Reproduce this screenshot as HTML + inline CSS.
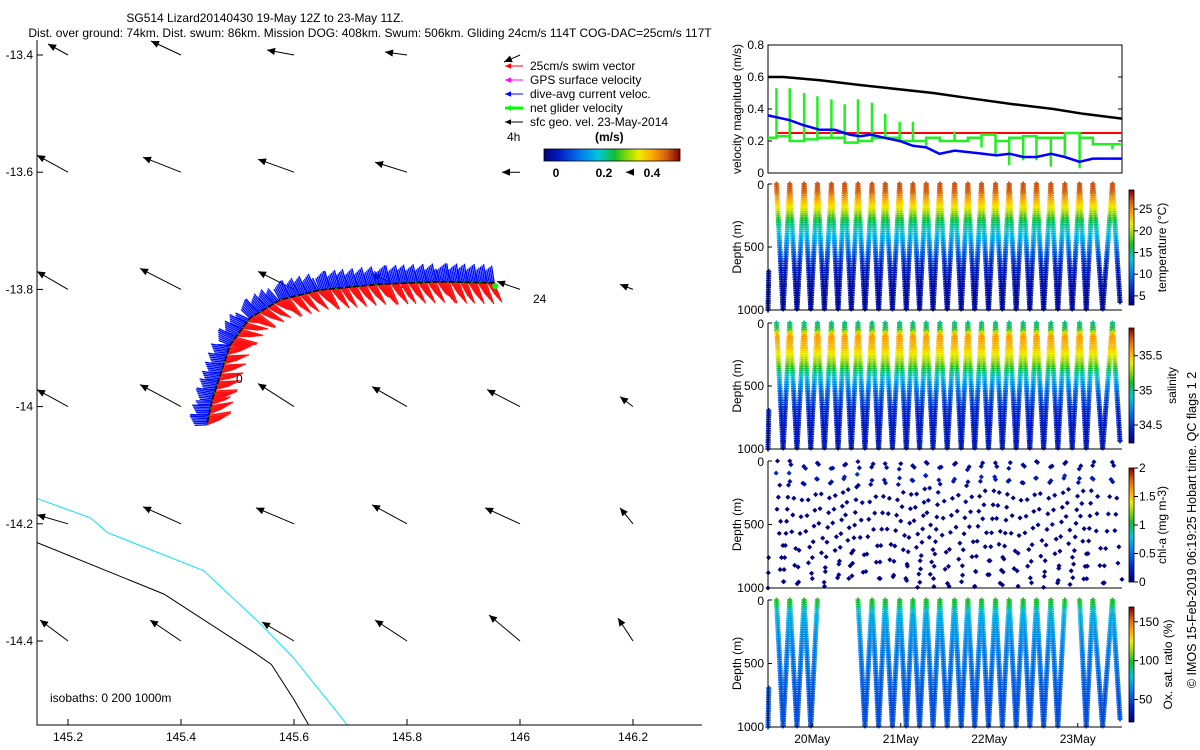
<!DOCTYPE html>
<html><head><meta charset="utf-8">
<style>
html,body{margin:0;padding:0;background:#fff;}
svg{display:block;font-family:"Liberation Sans",sans-serif;}
text{fill:#000;}
</style></head>
<body>
<svg id="chart" width="1200" height="750" viewBox="0 0 1200 750">
<defs>
<linearGradient id="jetH" x1="0" x2="1" y1="0" y2="0"></linearGradient>
<linearGradient id="jetV" x1="0" x2="0" y1="1" y2="0"></linearGradient>
<clipPath id="mapClip"><rect x="37" y="40" width="665" height="685"/></clipPath>
</defs>
<text x="265" y="22" font-size="12" text-anchor="middle">SG514 Lizard20140430 19-May 12Z to 23-May 11Z.</text>
<text x="370" y="37" font-size="12" text-anchor="middle">Dist. over ground: 74km. Dist. swum: 86km. Mission DOG: 408km. Swum: 506km. Gliding 24cm/s 114T COG-DAC=25cm/s 117T</text>
<g id="map"></g>
<g id="vel"></g>
<g id="prof"></g>
<text transform="translate(1196,530) rotate(-90)" font-size="12.5" text-anchor="middle">© IMOS 15-Feb-2019 06:19:25 Hobart time. QC flags 1  2</text>
</svg>
<script>
// ---------- data ----------
const gridLon = [145.2,145.4,145.6,145.8,146.0,146.2];
const gridLat = [-13.4,-13.6,-13.8,-14.0,-14.2,-14.4];
const geoU = [[-0.20,-0.30,-0.27,-0.22,-0.16,0],[-0.31,-0.38,-0.36,-0.32,-0.18,-0.07],[-0.31,-0.41,-0.36,-0.35,-0.23,-0.13],[-0.31,-0.41,-0.36,-0.35,-0.33,-0.13],[-0.31,-0.38,-0.38,-0.35,-0.35,-0.13],[-0.28,-0.31,-0.32,-0.32,-0.31,-0.15]];
const geoV = [[0.11,0.14,0.05,0.03,-0.07,0],[0.17,0.15,0.13,0.10,0,0],[0.18,0.21,0.18,0.15,0.08,0.05],[0.17,0.22,0.23,0.20,0.17,0.10],[0.09,0.17,0.16,0.19,0.16,0.16],[0.21,0.21,0.19,0.21,0.26,0.23]];
const trackLon = [145.446,145.455,145.487,145.522,145.575,145.646,145.752,145.858,145.956];
const trackLat = [-14.031,-13.989,-13.895,-13.849,-13.818,-13.801,-13.791,-13.787,-13.789];
const iso0Lon = [145.14,145.37,145.53,145.56,145.60,145.63];
const iso0Lat = [-14.23,-14.32,-14.42,-14.44,-14.50,-14.55];
const iso200Lon = [145.14,145.24,145.27,145.44,145.54,145.60,145.70];
const iso200Lat = [-14.155,-14.19,-14.215,-14.28,-14.37,-14.43,-14.55];
const mapLonTicks = [145.2,145.4,145.6,145.8,146.0,146.2];
const mapLatTicks = [-13.4,-13.6,-13.8,-14.0,-14.2,-14.4];

const geoHours = [0,4.2,14.1,24.9,44.8,53.9,66.5,77.4,85.5,96];
const geoSpeed = [0.60,0.60,0.58,0.55,0.50,0.47,0.43,0.40,0.37,0.34];
const dacHours = [0,5.9,9.5,14.0,18.1,22.1,24.9,28.0,31.6,35.7,39.3,42.9,46.5,50.6,54.7,58.3,61.9,65.6,69.2,72.8,76.8,80.5,84.5,88.1,96];
const dacSpeed = [0.36,0.33,0.30,0.27,0.27,0.24,0.23,0.24,0.22,0.20,0.17,0.16,0.12,0.14,0.13,0.12,0.11,0.12,0.10,0.10,0.12,0.10,0.07,0.09,0.09];
const diveHours = [2.3,5.9,9.8,13.4,17.2,20.8,24.4,28.2,31.8,35.7,39.3,42.9,46.6,50.6,54.2,57.9,61.7,65.4,69.2,72.8,76.7,80.5,84.5,88.1,93.4];
const gliderStart = 0.22;
const gliderSpeed = [0.23,0.20,0.21,0.22,0.22,0.19,0.20,0.22,0.22,0.20,0.20,0.22,0.20,0.20,0.22,0.24,0.20,0.22,0.23,0.22,0.22,0.25,0.22,0.18,0.18];
const gliderSpike = [0.53,0.53,0.50,0.48,0.46,0.43,0.46,0.44,0.37,0.32,0.32,0.17,0.22,0.26,0.20,0.16,0.11,0.05,0.08,0.08,0.04,0.11,0.03,0.18,0.15];
const swimSpeed = 0.25;
const velTicks = [0,0.2,0.4,0.6,0.8];

const profDepth = [0,50,100,200,300,400,500,600,700,800,1000];
const tempVal = [27,27,25,21,16,13,10,7,5.5,4.5,4];
const salVal = [35.0,35.1,35.6,35.5,35.3,35.0,34.7,34.55,34.45,34.42,34.4];
const oxyVal = [100,95,75,70,65,60,58,55,52,50,50];
const chlVal = [0.05,0.1,0.3,0.05,0.03,0.02,0.02,0.02,0.02,0.02,0.02];
const oxyDives = [0,1,2,6,7,8,9,10,11,12,13,14,15,16,17,18,19,20,22,23,24];
const dateTicks = ["20May","21May","22May","23May"];
const dateTickHours = [12,36,60,84];
const depthTicks = [0,500,1000];
const tempTicks = [5,10,15,20,25];
const salTicks = [34.5,35,35.5];
const chlTicks = [0,0.5,1,1.5,2];
const oxyTicks = [50,100,150];

// ---------- helpers ----------
const NS = "http://www.w3.org/2000/svg";
function mk(tag, attrs, parent){const e=document.createElementNS(NS,tag);for(const k in attrs)e.setAttribute(k,attrs[k]);parent.appendChild(e);return e;}
const cmapPos=[0,0.12,0.28,0.4,0.52,0.62,0.7,0.8,0.9,1];
const cmapRGB=[[0,0,128],[0,32,200],[0,130,240],[0,200,220],[20,190,50],[150,220,0],[240,235,0],[255,165,0],[210,95,20],[128,0,0]];
function jet(v){v=Math.max(0,Math.min(1,v));for(let i=1;i<cmapPos.length;i++){if(v<=cmapPos[i]){const t=(v-cmapPos[i-1])/(cmapPos[i]-cmapPos[i-1]);const a=cmapRGB[i-1],b=cmapRGB[i];return `rgb(${Math.round(a[0]+t*(b[0]-a[0]))},${Math.round(a[1]+t*(b[1]-a[1]))},${Math.round(a[2]+t*(b[2]-a[2]))})`;}}return 'rgb(128,0,0)';}
['jetH','jetV'].forEach(id=>{const gEl=document.getElementById(id);cmapPos.forEach((p,i)=>{mk('stop',{offset:p,'stop-color':`rgb(${cmapRGB[i].join(',')})`},gEl);});});
function interp(xs,ys,x){if(x<=xs[0])return ys[0];for(let i=1;i<xs.length;i++){if(x<=xs[i]){const t=(x-xs[i-1])/(xs[i]-xs[i-1]);return ys[i-1]+t*(ys[i]-ys[i-1]);}}return ys[ys.length-1];}

// ---------- map ----------
const map = document.getElementById('map');
const lonX = l => 68+(l-145.2)*565;
const latY = la => 55+(-13.4-la)*586;
const mg = mk('g',{'clip-path':'url(#mapClip)'},map);


function arrow(x1,y1,x2,y2,col,w,hs,parent){
  const l=mk('line',{x1,y1,x2,y2,stroke:col,'stroke-width':w},parent);
  const dx=x2-x1,dy=y2-y1,L=Math.hypot(dx,dy)||1,ux=dx/L,uy=dy/L;
  const p=mk('polygon',{points:`${x2},${y2} ${x2-ux*hs-uy*hs*0.45},${y2-uy*hs+ux*hs*0.45} ${x2-ux*hs+uy*hs*0.45},${y2-uy*hs-ux*hs*0.45}`,fill:col},parent);
  return [l,p];
}
let pts = iso200Lon.map((l,i)=>lonX(l)+','+latY(iso200Lat[i])).join(' ');
const iso200 = mk('polyline',{points:pts,fill:'none',stroke:'#00e5ff','stroke-width':1},mg);


pts = iso0Lon.map((l,i)=>lonX(l)+','+latY(iso0Lat[i])).join(' ');
const iso0 = mk('polyline',{points:pts,fill:'none',stroke:'#000','stroke-width':1},mg);


for(let r=0;r<gridLat.length;r++)for(let c=0;c<gridLon.length;c++){
  const u=geoU[r][c],v=geoV[r][c];if(Math.hypot(u,v)<0.02)continue;
  const x=lonX(gridLon[c]),y=latY(gridLat[r]);
  const g=mk('g',{},mg);
  
  
  arrow(x,y,x+u*100,y-v*100,'#000',1,8,g);
}
const tp = trackLon.map((l,i)=>[lonX(l),latY(trackLat[i])]);
const blueG = mk('g',{stroke:'#0010ff','stroke-width':1.4},mg);


const redG = mk('g',{stroke:'#ff1010','stroke-width':1.4},mg);


for(let i=1;i<tp.length;i++){
  const [x0,y0]=tp[i-1],[x1,y1]=tp[i];const L=Math.hypot(x1-x0,y1-y0);const dx=(x1-x0)/L,dy=(y1-y0)/L;
  const nx=dy,ny=-dx;
  for(let s=0;s<L;s+=1.6){
    const px=x0+dx*s,py=y0+dy*s;const k=(Math.floor(s/1.6)%6);
    mk('line',{x1:px,y1:py,x2:px+nx*(12+k*1.3)-dx*3,y2:py+ny*(12+k*1.3)-dy*3},blueG);
    mk('line',{x1:px,y1:py,x2:px-nx*(12+k*1.8)+dx*8,y2:py-ny*(12+k*1.8)+dy*8},redG);
  }
}
const trk = mk('polyline',{points:tp.map(p=>p.join(',')).join(' '),fill:'none',stroke:'#000','stroke-width':1.5},mg);


const trkG = mk('polyline',{points:tp.map(p=>p.join(',')).join(' '),fill:'none',stroke:'#00c000','stroke-width':1,'stroke-dasharray':'2 6'},mg);


const endMark = mk('circle',{cx:tp[tp.length-1][0],cy:tp[tp.length-1][1]+3,r:3,fill:'#00ff00'},mg);


let t = mk('text',{x:236,y:383,'font-size':12},mg);t.textContent='0';


t = mk('text',{x:533,y:303,'font-size':12},mg);t.textContent='24';


t = mk('text',{x:50,y:702,'font-size':12},mg);t.textContent='isobaths: 0   200  1000m';


const ax = mk('path',{d:'M37,40 V725 H702',fill:'none',stroke:'#000','stroke-width':1},map);


mapLonTicks.forEach(l=>{const x=lonX(l);
  const tk=mk('line',{x1:x,x2:x,y1:725,y2:719,stroke:'#000'},map);
  
  
  const tx=mk('text',{x:x,y:741,'font-size':12,'text-anchor':'middle'},map);tx.textContent=(Math.round(l*10)/10).toString();
  
  });
mapLatTicks.forEach(la=>{const y=latY(la);
  const tk=mk('line',{x1:37,x2:43,y1:y,y2:y,stroke:'#000'},map);
  
  
  const tx=mk('text',{x:33,y:y+4,'font-size':12,'text-anchor':'end'},map);tx.textContent=(Math.round(la*10)/10).toString();
  
  });
const legItems=[['25cm/s swim vector','#ff0000',1],['GPS surface velocity','#ff00ff',1],['dive-avg current veloc.','#0000ff',1],['net glider velocity','#00ff00',3],['sfc geo. vel. 23-May-2014','#000',1]];
legItems.forEach((it,i)=>{const y=66+i*14;const g=mk('g',{},map);
  
  
  arrow(523,y,505,y,it[1],it[2],6,g);
  const tx=mk('text',{x:530,y:y+4,'font-size':12},g);tx.textContent=it[0];});
t=mk('text',{x:507,y:141,'font-size':12},map);t.textContent='4h';


t=mk('text',{x:595,y:141,'font-size':12,'font-weight':'bold'},map);t.textContent='(m/s)';


const cb=mk('rect',{x:544,y:149,width:136,height:12,fill:'url(#jetH)',stroke:'#000','stroke-width':0.8},map);


[['0',556],['0.2',604],['0.4',652]].forEach(a=>{
  const tx=mk('text',{x:a[1],y:177,'font-size':12,'font-weight':'bold','text-anchor':'middle'},map);tx.textContent=a[0];
  
  });

// ---------- velocity panel ----------
const vel=document.getElementById('vel');
const VX0=768,VX1=1122,VY0=45,VY1=173;
const hx=h=>VX0+h/96*(VX1-VX0);
const vy=v=>VY1-v/0.8*(VY1-VY0);
const vbox=mk('rect',{x:VX0,y:VY0,width:VX1-VX0,height:VY1-VY0,fill:'none',stroke:'#000'},vel);


velTicks.forEach(v=>{const y=vy(v);
  const tk=mk('path',{d:`M${VX0},${y}h4M${VX1},${y}h-4`,stroke:'#000'},vel);
  
  
  const tx=mk('text',{x:764,y:y+4,'font-size':12,'text-anchor':'end'},vel);tx.textContent=String(v);
  
  });
t=mk('text',{transform:'translate(741,109) rotate(-90)','font-size':12,'text-anchor':'middle'},vel);t.textContent='velocity magnitude (m/s)';


const geoLine=mk('polyline',{points:geoHours.map((h,i)=>hx(h)+','+vy(geoSpeed[i])).join(' '),fill:'none',stroke:'#000','stroke-width':2.5},vel);


const swimLine=mk('line',{x1:hx(diveHours[0]),x2:VX1,y1:vy(swimSpeed),y2:vy(swimSpeed),stroke:'#ff0000','stroke-width':2},vel);


let gp=`M${hx(0)},${vy(gliderStart)}`;
diveHours.forEach((h,i)=>{const x=hx(h);gp+=`H${x}V${vy(gliderSpike[i])}V${vy(gliderSpeed[i])}`;});
gp+=`H${VX1}`;
const gl=mk('path',{d:gp,fill:'none',stroke:'#22ee22','stroke-width':2.5},vel);


const dacLine=mk('polyline',{points:dacHours.map((h,i)=>hx(h)+','+vy(dacSpeed[i])).join(' '),fill:'none',stroke:'#0000ff','stroke-width':2.5},vel);



// ---------- profile panels ----------
const prof=document.getElementById('prof');
const panels=[
 {name:'temperature',y0:184,y1:310,vals:tempVal,min:2.9,max:29.4,ticks:tempTicks,label:'temperature (°C)',lx:1166,cb0:190,cb1:305,dives:null,sparse:false},
 {name:'salinity',y0:323,y1:449,vals:salVal,min:34.24,max:35.9,ticks:salTicks,label:'salinity',lx:1176,cb0:328,cb1:443,dives:null,sparse:false},
 {name:'chl-a',y0:461,y1:588,vals:chlVal,min:0,max:2,ticks:chlTicks,label:'chl-a (mg m-3)',lx:1166,cb0:468,cb1:582,dives:null,sparse:true},
 {name:'oxygen',y0:600,y1:727,vals:oxyVal,min:21,max:169,ticks:oxyTicks,label:'Ox. sat. ratio (%)',lx:1172,cb0:607,cb1:722,dives:oxyDives,sparse:false}
];
function cross(x,y,col,parent){mk('path',{d:`M${x-2.5},${y}h5M${x},${y-2.5}v5`,stroke:col,'stroke-width':1.8},parent);}
function sq(x,y,col,parent){mk('rect',{x:x-1.8,y:y-1.8,width:3.6,height:3.6,fill:col,transform:`rotate(45 ${x} ${y})`},parent);}
panels.forEach(P=>{
  const g=mk('g',{},prof);
  
  
  const dy=d=>P.y0+d/1000*(P.y1-P.y0);
  const col=v=>jet((v-P.min)/(P.max-P.min));
  const pg=mk('g',{},g);
  
  
  const list=P.dives||diveHours.map((_,i)=>i);
  if(!P.dives||P.dives.includes(0)){
    for(let d=1000;d>=680;d-=P.sparse?120:18){const h=diveHours[0]*(1000-d)/1000*0.3;const x=hx(h);const v=interp(profDepth,P.vals,d);
      if(P.sparse)sq(x,dy(d),col(v),pg);else cross(x,dy(d),col(v),pg);}
  }
  list.forEach(i=>{
    const hs=diveHours[i];const hn=i+1<diveHours.length?diveHours[i+1]:hs+4.4;const hb=(hs+hn)/2;
    const last=i===diveHours.length-1;
    const step=P.sparse?(95+(i*37)%45):18;
    let k=0;
    for(let d=(P.sparse?(i*29)%60:0);d<=1000;d+=step){k++;
      const h=hs+(hb-hs)*d/1000;const x=hx(h);if(x>VX1)break;const v=interp(profDepth,P.vals,d);
      if(last&&d>950)break;
      if(P.sparse)sq(x+((k*3)%5-2),dy(d),col(v),pg);else cross(x,dy(d),col(v),pg);}
    if(last)return;
    for(let d=(P.sparse?(i*43)%70:0);d<=1000;d+=step){
      const h=hn-(hn-hb)*d/1000;const x=hx(h);const v=interp(profDepth,P.vals,d);
      if(P.sparse)sq(x,dy(d),col(v),pg);else cross(x,dy(d),col(v),pg);}
  });
  const ab=mk('path',{d:`M${VX0},${P.y0}V${P.y1}H${VX1}`,fill:'none',stroke:'#000'},g);
  
  
  depthTicks.forEach(d=>{const y=dy(d);
    const tk=mk('line',{x1:VX0,x2:VX0+4,y1:y,y2:y,stroke:'#000'},g);
    
    
    const tx=mk('text',{x:764,y:y+(d===0?5:4),'font-size':12,'text-anchor':'end'},g);tx.textContent=String(d);
    
    });
  const yt=mk('text',{transform:`translate(741,${(P.y0+P.y1)/2}) rotate(-90)`,'font-size':12,'text-anchor':'middle'},g);yt.textContent='Depth (m)';
  
  
  const cbr=mk('rect',{x:1129,y:P.cb0,width:5,height:P.cb1-P.cb0,fill:'url(#jetV)',stroke:'#000','stroke-width':0.8},g);
  
  
  P.ticks.forEach(v=>{const y=P.cb1-(v-P.min)/(P.max-P.min)*(P.cb1-P.cb0);
    const tk=mk('line',{x1:1134,x2:1138,y1:y,y2:y,stroke:'#000'},g);
    
    
    const tx=mk('text',{x:1139,y:y+4,'font-size':12},g);tx.textContent=String(v);
    
    });
  const cl=mk('text',{transform:`translate(${P.lx},${(P.cb0+P.cb1)/2}) rotate(-90)`,'font-size':12,'text-anchor':'middle'},g);cl.textContent=P.label;
  
  
});
dateTicks.forEach((lab,i)=>{const x=hx(dateTickHours[i]);
  const tk=mk('line',{x1:x,x2:x,y1:727,y2:723,stroke:'#000'},prof);
  
  
  const tx=mk('text',{x:x,y:743,'font-size':12,'text-anchor':'middle'},prof);tx.textContent=lab;
  
  });
</script>
</body></html>
